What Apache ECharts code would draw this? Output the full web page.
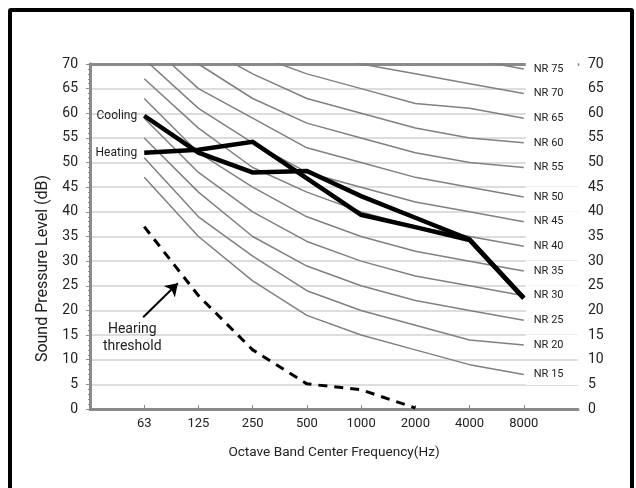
<!DOCTYPE html>
<html>
<head>
<meta charset="utf-8">
<script src="https://cdn.jsdelivr.net/npm/echarts@6/dist/echarts.min.js"></script>
<style>
  html, body { margin:0; padding:0; background:#fff; }
  #chart { position:absolute; left:0; top:0; width:636px; height:488px; }
  #frame { position:absolute; left:8px; top:8px; width:626px; height:600px; border:4.5px solid #000; border-radius:3px; box-sizing:border-box; pointer-events:none; }
</style>
</head>
<body>
<div id="chart"></div>
<div id="frame"></div>
<script>
// ---- data ----
const freqs = ['63', '125', '250', '500', '1000', '2000', '4000', '8000'];
const nrLevels = [15, 20, 25, 30, 35, 40, 45, 50, 55, 60, 65, 70, 75];
const nr15 = [47, 35, 26, 19, 15, 12, 9, 7];
const nr20 = [51, 39, 31, 24, 20, 17, 14, 13];
const nr25 = [55, 44, 35, 29, 25, 22, 20, 18];
const nr30 = [59, 48, 40, 34, 30, 27, 25, 23];
const nr35 = [63, 52, 45, 39, 35, 32, 30, 28];
const nr40 = [67, 57, 49, 44, 40, 37, 35, 33];
const nr45 = [71, 61, 54, 48, 45, 42, 40, 38];
const nr50 = [75, 65, 59, 53, 50, 47, 45, 43];
const nr55 = [79, 70, 63, 58, 55, 52, 50, 49];
const nr60 = [83, 74, 68, 63, 60, 57, 55, 54];
const nr65 = [87, 78, 72, 68, 65, 62, 61, 59];
const nr70 = [91, 83, 77, 73, 70, 68, 66, 64];
const nr75 = [95, 87, 82, 78, 75, 73, 71, 69];
const nrCurves = [nr15, nr20, nr25, nr30, nr35, nr40, nr45, nr50, nr55, nr60, nr65, nr70, nr75];
const cooling = [59.5, 52, 48, 48.3, 43.2, 38.8, 34.4, 22.5];
const heating = [52, 52.6, 54.2, 46.8, 39.4, 36.9, 34.3, 22.5];
const hearing = [37, 23, 12, 5.1, 3.9, 0.2];
// annotation anchors (data coordinates)
const hearingText = [0.78, 14.4];
const arrowTail = [0.98, 18.6];
const arrowHead = [1.62, 25.5];

// ---- chart ----
const FONT = 'Roboto';
const axisGray = '#8a8a8a';
const pos = (vals) => vals.map((v, i) => [i + 1, v]);

const series = [];
nrCurves.forEach((vals, k) => {
  series.push({
    type: 'line', data: pos(vals), symbol: 'none', silent: true, z: 2,
    lineStyle: { color: '#808080', width: 1.5 }, clip: true,
    endLabel: {
      show: true, distance: 2,
      formatter: 'NR ' + nrLevels[k],
      fontFamily: FONT, fontSize: 11, color: '#222',
      backgroundColor: '#fff', padding: [4, 6, 4, 8], width: 38, lineHeight: 13
    }
  });
});

function labeled(vals, name) {
  const d = pos(vals);
  d[0] = {
    value: d[0],
    label: { show: true, position: 'left', distance: 7, formatter: name,
      fontFamily: FONT, fontSize: 12, color: '#222' }
  };
  return d;
}

series.push({
  type: 'line', name: 'Cooling', data: labeled(cooling, 'Cooling'),
  symbol: 'circle', symbolSize: 0, showSymbol: true, showAllSymbol: true, z: 5,
  itemStyle: { color: '#000' },
  lineStyle: { color: '#000', width: 4.5, join: 'miter' }
});
series.push({
  type: 'line', name: 'Heating', data: labeled(heating, 'Heating'),
  symbol: 'circle', symbolSize: 0, showSymbol: true, showAllSymbol: true, z: 5,
  itemStyle: { color: '#000' },
  lineStyle: { color: '#000', width: 4.5, join: 'miter' }
});
series.push({
  type: 'line', name: 'Hearing threshold', data: pos(hearing), symbol: 'none', z: 4,
  lineStyle: { color: '#000', width: 3, type: [9, 7] },
  markLine: {
    silent: true, symbol: ['none', 'arrow'], symbolSize: 12,
    lineStyle: { color: '#000', width: 2, type: 'solid' },
    label: { show: false },
    data: [[{ coord: arrowTail }, { coord: arrowHead }]]
  },
  markPoint: {
    silent: true, symbol: 'circle', symbolSize: 0,
    label: { show: true, position: 'inside', formatter: 'Hearing\nthreshold',
      fontFamily: FONT, fontSize: 14, lineHeight: 17, color: '#222', align: 'center' },
    data: [{ coord: hearingText }]
  }
});

const yAxisCommon = {
  type: 'value', min: 0, max: 70, interval: 5,
  axisLine: { show: true, lineStyle: { color: axisGray, width: 3 } },
  axisLabel: { fontFamily: FONT, fontSize: 14, color: '#222' },
  minorTick: { show: true, splitNumber: 5, length: 2, lineStyle: { color: axisGray, width: 1 } }
};

const option = {
  animation: false,
  backgroundColor: 'transparent',
  grid: { left: 90, right: 58, top: 64, bottom: 79, containLabel: false },
  xAxis: [{
    type: 'value', min: 0, max: 9, interval: 1, position: 'bottom',
    axisLine: { show: true, onZero: false, lineStyle: { color: axisGray, width: 3 } },
    axisTick: { show: true, inside: true, length: 4, customValues: [1, 2, 3, 4, 5, 6, 7, 8],
      lineStyle: { color: axisGray, width: 1 } },
    axisLabel: { customValues: [1, 2, 3, 4, 5, 6, 7, 8], formatter: (v) => freqs[Math.round(v) - 1] || '',
      fontFamily: FONT, fontSize: 13, color: '#222', margin: 8 },
    splitLine: { show: false },
    name: 'Octave Band Center Frequency(Hz)', nameLocation: 'middle', nameGap: 37,
    nameTextStyle: { fontFamily: FONT, fontSize: 13.6, color: '#222' }
  }, {
    type: 'value', min: 0, max: 9, position: 'top',
    axisLine: { show: true, onZero: false, lineStyle: { color: axisGray, width: 3 } },
    axisTick: { show: false }, axisLabel: { show: false }, splitLine: { show: false }
  }],
  yAxis: [Object.assign({}, yAxisCommon, {
    position: 'left',
    axisTick: { show: true, inside: false, length: 4, lineStyle: { color: axisGray, width: 1 } },
    axisLabel: Object.assign({}, yAxisCommon.axisLabel, { margin: 12 }),
    splitLine: { show: true, lineStyle: { color: '#d2d2d2', width: 1.5 } },
    name: 'Sound Pressure Level (dB)', nameLocation: 'middle', nameGap: 31,
    nameTextStyle: { fontFamily: FONT, fontSize: 16, color: '#222', padding: [0, 64, 0, 0] }
  }), Object.assign({}, yAxisCommon, {
    position: 'right',
    axisTick: { show: true, inside: true, length: 4, lineStyle: { color: axisGray, width: 1 } },
    minorTick: Object.assign({}, yAxisCommon.minorTick),
    axisLabel: Object.assign({}, yAxisCommon.axisLabel, { margin: 10 }),
    splitLine: { show: false }
  })],
  series: series
};

const chart = echarts.init(document.getElementById('chart'), null, { renderer: 'canvas' });
chart.setOption(option);
</script>
</body>
</html>
